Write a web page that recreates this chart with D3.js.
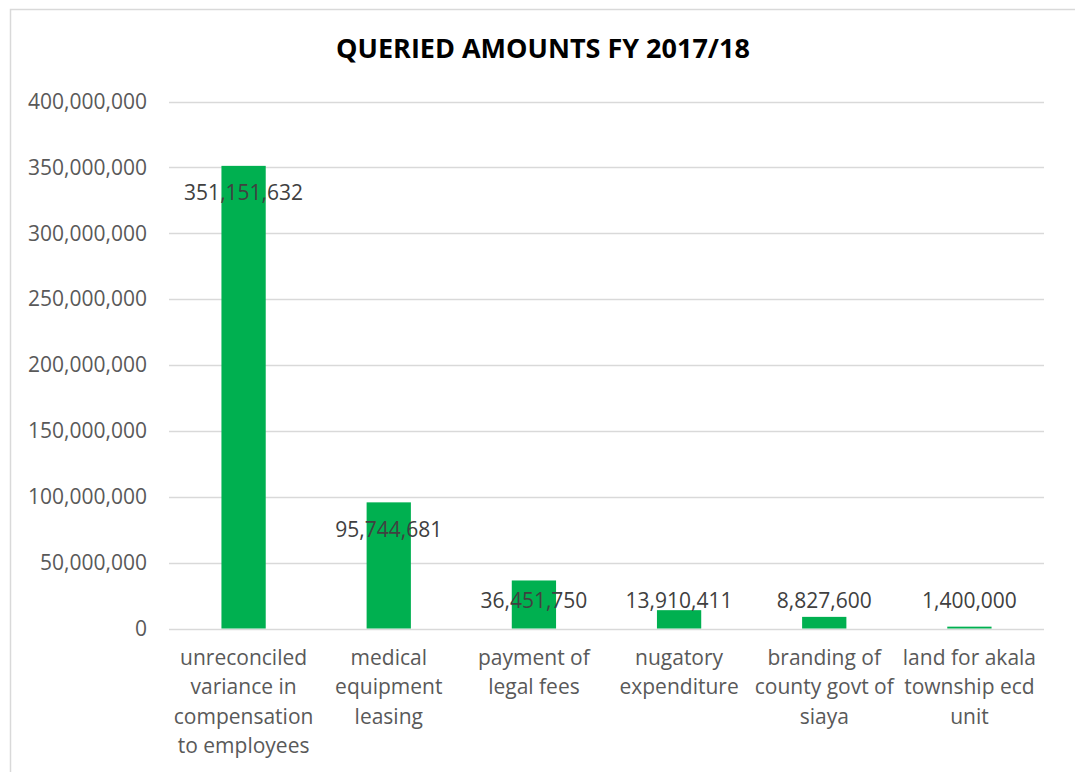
<!DOCTYPE html>
<html>
<head>
<meta charset="utf-8">
<script src="https://cdn.jsdelivr.net/npm/d3@7"></script>
<style>
  body { margin: 0; background: #fff; }
  text { font-family: "Open Sans", "Noto Sans", sans-serif; }
</style>
</head>
<body>
<div id="chart"></div>
<script>
// queried amounts, FY 2017/18
var categories = [
  "unreconciled variance in compensation to employees",
  "medical equipment leasing",
  "payment of legal fees",
  "nugatory expenditure",
  "branding of county govt of siaya",
  "land for akala township ecd unit"
];
var amounts = [351151632, 95744681, 36451750, 13910411, 8827600, 1400000];
var yTicks = [0, 50000000, 100000000, 150000000, 200000000, 250000000, 300000000, 350000000, 400000000];
var title = "QUERIED AMOUNTS FY 2017/18";

var W = 1075, H = 772;
var plot = {left: 171, right: 1042, top: 101.5, bottom: 628.5};

var svg = d3.select("#chart").append("svg")
    .attr("width", W)
    .attr("height", H);

// chart border (runs off right/bottom in the reference)
svg.append("rect")
    .attr("x", 10.5).attr("y", 9.5)
    .attr("width", W + 20).attr("height", H + 20)
    .attr("fill", "#fff")
    .attr("stroke", "#d9d9d9")
    .attr("stroke-width", 1.5);

var x = d3.scaleBand()
    .domain(categories)
    .range([plot.left, plot.right])
    .paddingInner(0.695)
    .paddingOuter(0.3475);

var y = d3.scaleLinear()
    .domain([0, 400000000])
    .range([plot.bottom, plot.top]);

var fmt = d3.format(",");

// gridlines
svg.append("g")
  .selectAll("line")
  .data(yTicks)
  .enter().append("line")
    .attr("x1", plot.left - 2)
    .attr("x2", plot.right + 2)
    .attr("y1", function(d) { return Math.round(y(d)) + 0.5; })
    .attr("y2", function(d) { return Math.round(y(d)) + 0.5; })
    .attr("stroke", "#d9d9d9")
    .attr("stroke-width", 1.3);

// y axis labels
svg.append("g")
  .selectAll("text")
  .data(yTicks)
  .enter().append("text")
    .attr("x", 147)
    .attr("y", function(d) { return y(d); })
    .attr("dy", "0.35em")
    .attr("text-anchor", "end")
    .attr("fill", "#595959")
    .style("font-size", "21px")
    .text(function(d) { return fmt(d); });

var data = categories.map(function(c, i) { return {cat: c, value: amounts[i]}; });

// bars
svg.append("g")
  .selectAll("rect")
  .data(data)
  .enter().append("rect")
    .attr("x", function(d) { return x(d.cat); })
    .attr("width", x.bandwidth())
    .attr("y", function(d) { return y(d.value); })
    .attr("height", function(d) { return y(0) - y(d.value); })
    .attr("fill", "#00b050");

// data labels - inside end, but never lower than the row just above the axis
svg.append("g")
  .selectAll("text")
  .data(data)
  .enter().append("text")
    .attr("x", function(d) { return x(d.cat) + x.bandwidth() / 2; })
    .attr("y", function(d) { return Math.min(y(d.value) + 27, y(0) - 28); })
    .attr("dy", "0.35em")
    .attr("text-anchor", "middle")
    .attr("fill", "#404040")
    .style("font-size", "21px")
    .text(function(d) { return fmt(d.value); });

// category labels, wrapped to the band step
var catG = svg.append("g")
  .selectAll("text")
  .data(data)
  .enter().append("text")
    .attr("text-anchor", "middle")
    .attr("fill", "#595959")
    .style("font-size", "21px")
    .attr("transform", function(d) {
      return "translate(" + (x(d.cat) + x.bandwidth() / 2) + "," + (plot.bottom + 36) + ")";
    });

catG.each(function(d) {
  var el = d3.select(this);
  var words = d.cat.split(" ");
  var lines = [], line = [];
  var maxW = x.step() + 4;
  var probe = el.append("tspan");
  words.forEach(function(w) {
    var test = line.concat([w]).join(" ");
    probe.text(test);
    if (line.length && probe.node().getComputedTextLength() > maxW) {
      lines.push(line.join(" "));
      line = [w];
    } else {
      line.push(w);
    }
  });
  if (line.length) lines.push(line.join(" "));
  probe.remove();
  lines.forEach(function(l, i) {
    el.append("tspan")
      .attr("x", 0)
      .attr("y", i * 29.5)
      .text(l);
  });
});

// title
svg.append("text")
    .attr("x", 543)
    .attr("y", 58)
    .attr("text-anchor", "middle")
    .attr("fill", "#000")
    .style("font-size", "27px")
    .style("font-weight", "bold")
    .text(title);
</script>
</body>
</html>
